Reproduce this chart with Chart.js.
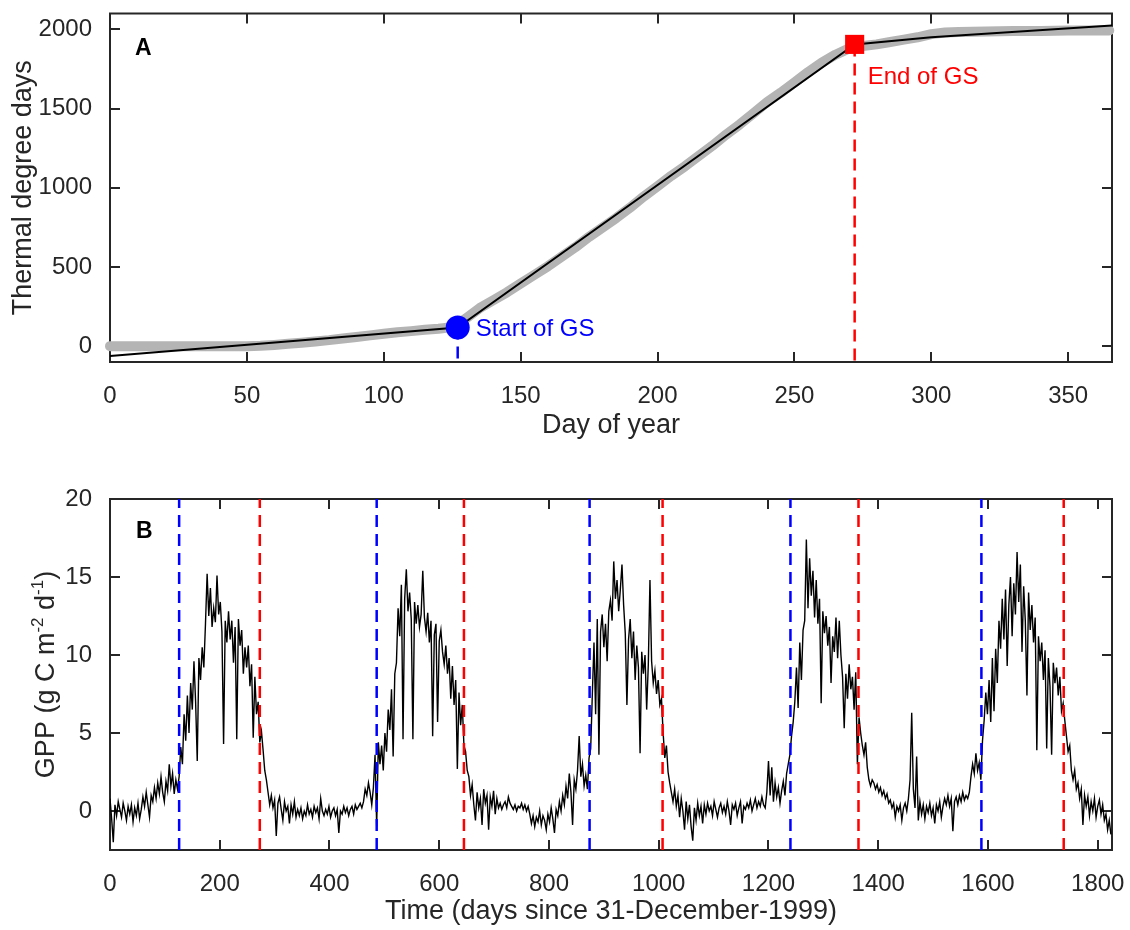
<!DOCTYPE html>
<html>
<head>
<meta charset="utf-8">
<title>Thermal degree days and GPP</title>
<script src="https://cdn.jsdelivr.net/npm/chart.js@4.4.1/dist/chart.umd.min.js"></script>
<style>
  body { margin: 0; background: #fff; }
  #wrap { position: relative; width: 1130px; height: 930px; }
  canvas { position: absolute; left: 0; }
  #tddChart { top: 0; }
  #gppChart { top: 465px; }
</style>
</head>
<body>
<div id="wrap">
  <canvas id="tddChart" width="1130" height="465"></canvas>
  <canvas id="gppChart" width="1130" height="465"></canvas>
</div>
<script>
// ---------- A: cumulative thermal degree days ----------
const obsStep = 5; // observed series, one value every 5 days of year
const obsTdd = [
  0, 0, 0, 0, 0, 0, 0, 0, 0, 0, 0,
  2, 8, 15, 22, 30, 38, 48, 58, 68, 78, 88, 95, 103, 110, 120,
  175, 240, 290, 340, 395, 450, 505, 565, 625, 690, 750, 810, 875, 945, 1010,
  1075, 1135, 1200, 1265, 1335, 1400, 1470, 1540, 1600, 1665, 1730, 1790, 1840, 1880,
  1895, 1905, 1920, 1935, 1950, 1970, 1980, 1983, 1985, 1987, 1988, 1989, 1990, 1990,
  1991, 1992, 1992, 1993, 1993
];
// piecewise fit
const fitDoy = [0, 127, 272, 300, 366];
const fitTdd = [-62, 118, 1905, 1950, 2025];
const gsStartDoy = 127, gsStartTdd = 118;
const gsEndDoy = 272, gsEndTdd = 1905;
const tddXTicks = [0, 50, 100, 150, 200, 250, 300, 350];
const tddYTicks = [0, 500, 1000, 1500, 2000];

// ---------- B: daily GPP 2000-2004 ----------
const gppStep = 3; // days between values
const gppValues = [
  // 2000
  0.8, -0.5, -2.0, 0.4, -0.3, 0.6, 0.1, -0.4, 0.5, 0.0, -0.6, 0.3, -0.2, 0.4, -0.7, 0.2, -0.3, 0.5, -0.5, 0.1,
  0.9, 0.3, 1.2, 0.4, -0.4, 1.0, 0.6, 1.5, 0.8, 1.8, 1.1, 2.2, 1.2, 0.6, 1.9, 1.3, 3.0, 1.6, 2.4, 1.1, 2.0, 1.4, 2.2,
  4.1, 3.0, 6.2, 4.5, 7.4, 5.0, 8.2, 6.5, 9.6, 7.0, 3.2, 9.8, 8.4, 10.5, 9.2, 12.0, 15.2, 12.5, 14.3, 11.8,
  13.0, 12.1, 15.1, 12.6, 13.4, 11.5, 4.3, 12.2, 10.8, 12.8, 11.0, 12.2, 9.5, 11.8, 4.6, 12.3, 10.6, 11.6, 8.8, 10.5,
  9.2, 10.6, 8.0, 9.4, 4.7, 8.6, 6.2, 7.0, 4.4,
  5.1, 3.9, 2.6, 2.0, 1.2, 0.4, 1.0, 0.2, 0.7, -1.6, 0.5, 0.9, 0.1, -0.6, 0.6, 0.0, 0.3, -0.8, 0.4, -0.2,
  0.6, -0.4, 0.1, -0.3, 0.2, -0.5, 0.0, -0.3, 0.4, -0.2, 0.1, -0.4, 0.3, -0.1, 0.2, -0.5, 0.8, 0.0, -0.3, 0.1,
  // 2001
  -0.2, 0.3, -0.4, 0.0, 0.2, -0.3, 0.1, -1.4, 0.0, -0.2, 0.3, -0.1, 0.2, -0.3, 0.1, 0.3, -0.2, 0.4, 0.1, 0.3,
  0.5, 0.2, 0.6, 1.4, 1.0, 1.8, 1.2, 0.4, 1.5, 3.6, -1.0,
  4.4, 3.0, 4.2, 2.6, 5.0, 3.8, 6.5, 5.2, 7.8, 3.5, 8.8, 9.5, 13.0, 11.2, 14.5, 4.6, 13.6, 15.5, 12.8, 14.0,
  12.3, 4.6, 13.4, 12.0, 13.2, 11.8, 12.6, 15.4, 12.4, 11.5, 12.7, 10.8, 12.2, 4.8, 11.3, 12.0, 5.7, 10.9, 11.6, 10.2,
  9.4, 10.6, 8.8, 9.8, 7.2, 9.3, 6.8, 8.4, 2.7, 7.6, 5.5, 6.8, 4.2,
  3.8, 2.6, 2.2, 1.0, 1.7, 0.4, -0.6, 1.2, 0.2, 0.8, -0.9, 1.4, 0.5, 1.0, -1.2, 0.9, 0.3, 1.3, -0.2, 0.8,
  0.2, 0.5, 0.1, 0.4, 0.6, 0.2, 0.9, 0.5, 0.3, 0.1, 0.4, 0.0, 0.3, 0.2, 0.5, 0.1, 0.4, 0.0, 0.3, -0.2,
  // 2002
  -0.8, -0.3, -1.0, -0.4, -0.7, 0.0, -0.9, -0.3, -0.6, -1.2, -0.2, -0.7, 0.2, -0.5, -1.4, 0.1, -0.3, 0.6, 0.0, 1.0,
  0.4, 1.6, 0.8, 2.4, 1.2, -0.9, 2.0, 1.4, 2.6, 4.8, 2.2, 3.0, 1.6, 2.3, 1.4, 3.4,
  4.0, 7.5, 10.8, 6.2, 12.3, 3.6, 11.5, 12.6, 10.5, 12.0, 9.6, 12.8, 13.5, 12.2, 16.0, 13.6, 14.8, 12.8, 14.2, 15.8,
  13.2, 11.4, 6.8, 11.0, 12.3, 9.8, 11.5, 8.4, 10.6, 9.2, 3.7, 10.2, 8.8, 10.0, 6.5, 9.4, 14.8, 9.6, 8.2, 9.0,
  7.5, 8.4, 6.8, 7.2,
  5.0, 3.4, 4.2, 2.5, 1.8, 1.2, 0.6, 1.4, 0.3, 1.0, -0.4, 0.8, 0.0, -1.2, 0.6, -0.5, 0.4, -1.0, -1.9, 0.2,
  -0.6, 0.5, -0.3, 0.3, -0.8, 0.4, -0.2, 0.5, 0.0, 0.3, -0.3, 0.6, 0.1, -0.4, 0.2, 0.5, -0.1, 0.3, -0.2, 0.6,
  // 2003
  0.0, -0.9, 0.4, 0.1, 0.5, -0.3, 0.2, 0.6, -0.8, 0.3, 0.1, 0.5, 0.2, 0.7, 0.0, 0.4, 0.8, 0.2, 0.6, 0.3,
  0.9, 0.4, 0.2, 1.2, 3.2, 1.0, 2.8, 0.6, 1.8, 0.9, 1.5, 0.5, 1.3, 1.9, 1.0, 2.4, 3.0, 3.6,
  4.8, 5.7, 7.0, 9.2, 6.6, 10.8, 8.4, 11.6, 12.2, 17.4, 13.0, 16.2, 13.8, 15.4, 12.4, 14.8, 12.0, 13.6, 6.9, 12.8,
  11.4, 12.5, 10.6, 11.8, 8.2, 11.2, 10.2, 12.4, 9.8, 12.2, 10.0, 8.6, 5.3, 8.8, 7.2, 9.4, 7.8, 8.6, 6.5, 8.9,
  3.0, 6.0,
  5.0, 4.2, 3.6, 4.4, 2.8, 2.0, 1.6, 2.0, 1.8, 1.4, 1.7, 1.2, 1.5, 1.0, 1.3, 0.8, 1.1, 0.5, 0.7, 0.2,
  0.5, -0.4, 0.3, 0.0, 0.4, -0.6, 0.2, 0.5, 0.0, 0.8, 2.0, 6.3, 1.4, 0.2, 3.5, -0.6, 0.6, -0.2, 0.4, -0.5,
  // 2004
  0.3, -0.1, 0.5, -0.3, 0.2, -0.8, 0.4, 0.0, 0.6, -0.4, 0.3, 0.8, 0.4, 1.0, 0.3, 0.8, -1.3, 0.6, 0.9, 0.4,
  1.0, 0.6, 1.2, 0.7, 1.0, 0.8, 1.2, 2.2, 3.0, 2.4, 3.7, 2.6, 3.1, 2.0,
  4.5, 5.8, 7.6, 6.2, 8.4, 5.7, 9.8, 6.4, 10.4, 8.2, 12.2, 10.4, 13.6, 11.0, 14.2, 9.3, 13.2, 15.0, 11.2, 14.6,
  12.6, 16.6, 13.4, 15.8, 10.2, 14.4, 12.2, 7.4, 14.0, 11.6, 13.2, 10.8, 12.4, 3.9, 11.2, 9.6, 10.8, 8.4, 10.3, 4.0,
  9.8, 8.0, 3.6, 9.5, 8.2, 9.2, 7.4, 8.6, 6.4, 6.9,
  5.8, 4.8, 3.8, 4.2, 2.6, 2.0, 2.6, 1.4, 1.8, 0.8, 1.4, -0.9, 1.0, 0.3, 0.9, -0.3, 0.6, 0.0, 0.8, -0.4,
  0.3, 0.7, -0.2, 0.4, -0.6, -0.2, -1.2, -0.6, -1.5
];
const gsStarts = [126, 486, 874, 1240, 1588];
const gsEnds = [273, 645, 1007, 1364, 1738];
const gppXTicks = [0, 200, 400, 600, 800, 1000, 1200, 1400, 1600, 1800];
const gppYTicks = [0, 5, 10, 15, 20];

// ---------- styling ----------
const FONT = "'Liberation Sans', Arial, sans-serif";
const AXIS_COLOR = '#262626';
const BLUE = '#0000ff';
const RED = '#ff0000';
const TICK_LEN = 10;

Chart.defaults.font.family = FONT;
Chart.defaults.color = AXIS_COLOR;
Chart.defaults.animation = false;
Chart.defaults.plugins.legend.display = false;
Chart.defaults.plugins.tooltip.enabled = false;

// box around the plot with inward ticks on all four sides
function framePlugin(xTicks, yTicks) {
  return {
    id: 'frame',
    beforeDatasetsDraw(chart) {
      const { ctx, chartArea: a, scales: { x, y } } = chart;
      ctx.save();
      ctx.strokeStyle = AXIS_COLOR;
      ctx.lineWidth = 2;
      ctx.beginPath();
      xTicks.forEach(v => {
        const px = Math.round(x.getPixelForValue(v));
        ctx.moveTo(px, a.bottom); ctx.lineTo(px, a.bottom - TICK_LEN);
        ctx.moveTo(px, a.top); ctx.lineTo(px, a.top + TICK_LEN);
      });
      yTicks.forEach(v => {
        const py = Math.round(y.getPixelForValue(v));
        ctx.moveTo(a.left, py); ctx.lineTo(a.left + TICK_LEN, py);
        ctx.moveTo(a.right, py); ctx.lineTo(a.right - TICK_LEN, py);
      });
      ctx.stroke();
      ctx.strokeRect(a.left, a.top, a.right - a.left, a.bottom - a.top);
      ctx.restore();
    }
  };
}

function fixedTicks(list) {
  return scale => { scale.ticks = list.map(v => ({ value: v })); };
}

function fixWidth(w) {
  return scale => { scale.width = w; scale.paddingTop = 0; scale.paddingBottom = 0; };
}
function fixHeight(h) {
  return scale => { scale.height = h; scale.paddingLeft = 0; scale.paddingRight = 0; };
}

// plain numbers, no thousands separator
const plainLabel = v => String(v);

function panelLetter(ctx, area, letter, dx, dy) {
  ctx.save();
  ctx.font = 'bold 23px ' + FONT;
  ctx.fillStyle = '#000';
  ctx.textBaseline = 'alphabetic';
  ctx.fillText(letter, area.left + dx, area.top + dy);
  ctx.restore();
}

// ---------- chart A ----------
const gsLabels = {
  id: 'gsLabels',
  afterDatasetsDraw(chart) {
    const { ctx, scales: { x, y } } = chart;
    ctx.save();
    ctx.font = '24px ' + FONT;
    ctx.textAlign = 'left';
    ctx.textBaseline = 'middle';
    ctx.fillStyle = BLUE;
    ctx.fillText('Start of GS', x.getPixelForValue(gsStartDoy) + 18, y.getPixelForValue(gsStartTdd) + 2);
    ctx.fillStyle = RED;
    ctx.fillText('End of GS', x.getPixelForValue(gsEndDoy) + 13, y.getPixelForValue(gsEndTdd) + 33);
    ctx.restore();
    panelLetter(ctx, chart.chartArea, 'A', 25, 41);
  }
};

const tddYMin = -100, tddYMax = 2100;

new Chart(document.getElementById('tddChart'), {
  type: 'line',
  data: {
    datasets: [
      { // markers
        data: [{ x: gsStartDoy, y: gsStartTdd }],
        showLine: false, pointStyle: 'circle', pointRadius: 12,
        pointBackgroundColor: BLUE, pointBorderWidth: 0, clip: false
      },
      {
        data: [{ x: gsEndDoy, y: gsEndTdd }],
        showLine: false, pointStyle: 'rect', pointRadius: 13.5,
        pointBackgroundColor: RED, pointBorderWidth: 0, clip: false
      },
      { // drop lines
        data: [{ x: gsStartDoy, y: gsStartTdd }, { x: gsStartDoy, y: tddYMin }],
        borderColor: BLUE, borderWidth: 2.5, borderDash: [12, 7], pointRadius: 0
      },
      {
        data: [{ x: gsEndDoy, y: gsEndTdd }, { x: gsEndDoy, y: tddYMin }],
        borderColor: RED, borderWidth: 2.5, borderDash: [12, 7], pointRadius: 0
      },
      { // fitted line
        data: fitDoy.map((d, i) => ({ x: d, y: fitTdd[i] })),
        borderColor: '#000', borderWidth: 2, pointRadius: 0, tension: 0
      },
      { // observed
        data: obsTdd.map((v, i) => ({ x: i * obsStep, y: v })),
        borderColor: '#b4b4b4', borderWidth: 10, pointRadius: 0, tension: 0,
        borderCapStyle: 'round', borderJoinStyle: 'round',
        clip: { left: 6, right: 6, top: 0, bottom: 0 }
      }
    ]
  },
  options: {
    responsive: false,
    devicePixelRatio: 1,
    layout: { padding: { top: 8, right: 18, bottom: 0, left: 0 } },
    scales: {
      x: {
        type: 'linear', min: 0, max: 366,
        grid: { display: false }, border: { display: false },
        afterBuildTicks: fixedTicks(tddXTicks),
        afterFit: fixHeight(103),
        ticks: { font: { size: 24 }, padding: 12, maxRotation: 0, callback: plainLabel },
        title: { display: true, text: 'Day of year', font: { size: 27 }, padding: { top: 0, bottom: 23 } }
      },
      y: {
        min: tddYMin, max: tddYMax,
        grid: { display: false }, border: { display: false },
        afterBuildTicks: fixedTicks(tddYTicks),
        afterFit: fixWidth(110),
        ticks: { font: { size: 24 }, padding: 10, callback: plainLabel },
        title: { display: true, text: 'Thermal degree days', font: { size: 27 }, padding: { top: 7, bottom: 0 } }
      }
    }
  },
  plugins: [framePlugin(tddXTicks, tddYTicks), gsLabels]
});

// ---------- chart B ----------
const gppYMin = -2.5, gppYMax = 20;

function verticalLines(days) {
  const pts = [];
  days.forEach(d => pts.push({ x: d, y: gppYMin }, { x: d, y: gppYMax }, { x: d, y: null }));
  return pts;
}

const gppDecor = {
  id: 'gppDecor',
  afterDraw(chart) {
    const { ctx, chartArea: a } = chart;
    panelLetter(ctx, a, 'B', 26, 39);
    // y-axis title with superscripts
    const big = '27px ' + FONT, small = '17px ' + FONT;
    const parts = [
      { t: 'GPP (g C m', f: big, up: 0 },
      { t: '-2', f: small, up: 9 },
      { t: ' d', f: big, up: 0 },
      { t: '-1', f: small, up: 9 },
      { t: ')', f: big, up: 0 }
    ];
    ctx.save();
    let total = 0;
    parts.forEach(p => { ctx.font = p.f; p.w = ctx.measureText(p.t).width; total += p.w; });
    ctx.translate(47, (a.top + a.bottom) / 2);
    ctx.rotate(-Math.PI / 2);
    ctx.fillStyle = AXIS_COLOR;
    ctx.textBaseline = 'middle';
    ctx.textAlign = 'left';
    let pos = -total / 2;
    parts.forEach(p => { ctx.font = p.f; ctx.fillText(p.t, pos, -p.up); pos += p.w; });
    ctx.restore();
  }
};

new Chart(document.getElementById('gppChart'), {
  type: 'line',
  data: {
    datasets: [
      {
        data: verticalLines(gsStarts),
        borderColor: BLUE, borderWidth: 2.5, borderDash: [12, 7], pointRadius: 0, spanGaps: false
      },
      {
        data: verticalLines(gsEnds),
        borderColor: RED, borderWidth: 2.5, borderDash: [12, 7], pointRadius: 0, spanGaps: false
      },
      {
        data: gppValues.map((v, i) => ({ x: i * gppStep, y: v })),
        borderColor: '#000', borderWidth: 1.4, pointRadius: 0, tension: 0
      }
    ]
  },
  options: {
    responsive: false,
    devicePixelRatio: 1,
    layout: { padding: { top: 34, right: 18, bottom: 0, left: 0 } },
    scales: {
      x: {
        type: 'linear', min: 0, max: 1826,
        grid: { display: false }, border: { display: false },
        afterBuildTicks: fixedTicks(gppXTicks),
        afterFit: fixHeight(80),
        ticks: { font: { size: 24 }, padding: 12, maxRotation: 0, callback: plainLabel },
        title: { display: true, text: 'Time (days since 31-December-1999)', font: { size: 27 }, padding: { top: 0, bottom: 2 } }
      },
      y: {
        min: gppYMin, max: gppYMax,
        grid: { display: false }, border: { display: false },
        afterBuildTicks: fixedTicks(gppYTicks),
        afterFit: fixWidth(110),
        ticks: { font: { size: 24 }, padding: 10, callback: plainLabel }
      }
    }
  },
  plugins: [framePlugin(gppXTicks, gppYTicks), gppDecor]
});
</script>
</body>
</html>
